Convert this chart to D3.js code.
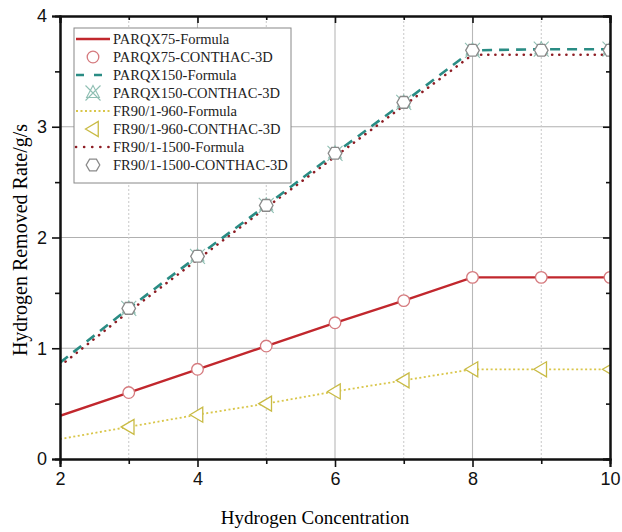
<!DOCTYPE html>
<html>
<head>
<meta charset="utf-8">
<script src="https://cdn.jsdelivr.net/npm/d3@7/dist/d3.min.js"></script>
<style>
body { margin: 0; background: #fff; }
.tick text { font-family: "Liberation Sans", Arial, sans-serif; font-size: 18px; }
</style>
</head>
<body>
<script>
var width = 622,
    height = 532;

var margin = {left: 60, right: 12, top: 16, bottom: 73};

// formula lines: concentration 2..10
var xLine = [2, 3, 4, 5, 6, 7, 8, 9, 10];
// CONTHAC-3D points: concentration 3..10
var xPts = [3, 4, 5, 6, 7, 8, 9, 10];

var parqx75Formula = [0.39, 0.60, 0.81, 1.02, 1.23, 1.43, 1.64, 1.64, 1.64];
var parqx75Sim = [0.60, 0.81, 1.02, 1.23, 1.43, 1.64, 1.64, 1.64];
var parqx150Formula = [0.87, 1.36, 1.83, 2.29, 2.76, 3.22, 3.69, 3.70, 3.70];
var parqx150Sim = [1.36, 1.83, 2.29, 2.76, 3.22, 3.69, 3.70, 3.70];
var fr960Formula = [0.18, 0.29, 0.40, 0.50, 0.61, 0.71, 0.81, 0.81, 0.81];
var fr960Sim = [0.29, 0.40, 0.50, 0.61, 0.71, 0.81, 0.81, 0.81];
var fr1500Formula = [0.84, 1.33, 1.80, 2.27, 2.73, 3.19, 3.65, 3.65, 3.65];
var fr1500Sim = [1.36, 1.83, 2.29, 2.76, 3.22, 3.69, 3.69, 3.69];

var legendLabels = ["PARQX75-Formula", "PARQX75-CONTHAC-3D", "PARQX150-Formula", "PARQX150-CONTHAC-3D",
    "FR90/1-960-Formula", "FR90/1-960-CONTHAC-3D", "FR90/1-1500-Formula", "FR90/1-1500-CONTHAC-3D"];
var xTicks = [2, 4, 6, 8, 10];
var yTicks = [0, 1, 2, 3, 4];

var svg = d3.select("body").append("svg")
    .attr("width", width)
    .attr("height", height);

var x = d3.scaleLinear().domain([2, 10]).range([margin.left, width - margin.right]);
var y = d3.scaleLinear().domain([0, 4]).range([height - margin.bottom, margin.top]);

// grid
var grid = svg.append("g");
grid.selectAll("line.hg")
    .data([1, 2, 3])
    .enter().append("line")
    .attr("x1", x(2)).attr("x2", x(10))
    .attr("y1", function(d) { return y(d); }).attr("y2", function(d) { return y(d); })
    .attr("stroke", "#b0b0b0").attr("stroke-width", 1.2);
grid.selectAll("line.vg")
    .data([4, 6, 8])
    .enter().append("line")
    .attr("y1", y(0)).attr("y2", y(4))
    .attr("x1", function(d) { return x(d); }).attr("x2", function(d) { return x(d); })
    .attr("stroke", "#b8b8b8").attr("stroke-width", 1.1);
grid.selectAll("line.vm")
    .data([3, 5, 7, 9])
    .enter().append("line")
    .attr("y1", y(0)).attr("y2", y(4))
    .attr("x1", function(d) { return x(d); }).attr("x2", function(d) { return x(d); })
    .attr("stroke", "#c8c8c8").attr("stroke-width", 1).attr("stroke-dasharray", "2,2");

svg.append("clipPath").attr("id", "clip")
    .append("rect")
    .attr("x", x(2)).attr("y", y(4))
    .attr("width", x(10) - x(2)).attr("height", y(0) - y(4));

var plot = svg.append("g").attr("clip-path", "url(#clip)");

var line = d3.line()
    .x(function(d, i) { return x(xLine[i]); })
    .y(function(d) { return y(d); });

var series = [
    {vals: fr960Formula, color: "#d9c64a", w: 1.8, dash: "2,2.5", cap: "butt"},
    {vals: parqx75Formula, color: "#c1272d", w: 2.4, dash: null, cap: "butt"},
    {vals: fr1500Formula, color: "#8e1d24", w: 2.6, dash: "0.1,7", cap: "round"},
    {vals: parqx150Formula, color: "#2a8c84", w: 2.6, dash: "10,7", cap: "butt"}
];

series.forEach(function(s) {
    plot.append("path")
        .attr("d", line(s.vals))
        .attr("fill", "none")
        .attr("stroke", s.color)
        .attr("stroke-width", s.w)
        .attr("stroke-linecap", s.cap)
        .attr("stroke-dasharray", s.dash);
});

// markers
function drawCircle(g, cx, cy) {
    g.append("circle").attr("cx", cx).attr("cy", cy).attr("r", 5.8)
        .attr("fill", "#fff").attr("stroke", "#d57a7e").attr("stroke-width", 1.3);
}
function drawTri(g, cx, cy) {
    var s = 7.5;
    g.append("path")
        .attr("d", "M" + (cx - s) + "," + cy + "L" + (cx + s * 0.7) + "," + (cy - s) + "L" + (cx + s * 0.7) + "," + (cy + s) + "Z")
        .attr("fill", "#fff").attr("stroke", "#c9bb45").attr("stroke-width", 1.3);
}
function drawHex(g, cx, cy) {
    var r = 6.8, pts = [];
    for (var k = 0; k < 6; k++) {
        var a = Math.PI / 3 * k;
        pts.push([cx + r * Math.cos(a), cy + r * Math.sin(a)]);
    }
    g.append("path").attr("d", "M" + pts.join("L") + "Z")
        .attr("fill", "#fff").attr("stroke", "#8a8a8a").attr("stroke-width", 1.3);
}
function drawCross(g, cx, cy) {
    var s = 7.5;
    g.append("path")
        .attr("d", "M" + (cx - s) + "," + (cy - s) + "L" + (cx + s) + "," + (cy + s) +
            "M" + (cx + s) + "," + (cy - s) + "L" + (cx - s) + "," + (cy + s) +
            "M" + cx + "," + (cy - s) + "L" + (cx + s * 0.85) + "," + (cy + s * 0.6) + "L" + (cx - s * 0.85) + "," + (cy + s * 0.6) + "Z")
        .attr("fill", "none").attr("stroke", "#8fbfb3").attr("stroke-width", 1.1);
}

xPts.forEach(function(xv, i) {
    drawTri(plot, x(xv), y(fr960Sim[i]));
    drawCircle(plot, x(xv), y(parqx75Sim[i]));
    drawCross(plot, x(xv), y(parqx150Sim[i]));
    drawHex(plot, x(xv), y(fr1500Sim[i]));
});

// axes
var axisColor = "#111";
svg.append("g")
    .attr("transform", "translate(0," + y(0) + ")")
    .call(d3.axisBottom(x).tickValues(xTicks).tickSize(8).tickPadding(5).tickFormat(d3.format("d")));
svg.append("g")
    .attr("transform", "translate(0," + y(0) + ")")
    .call(d3.axisBottom(x).tickValues([3, 5, 7, 9]).tickSize(5).tickFormat(""));
svg.append("g")
    .attr("transform", "translate(" + x(2) + ",0)")
    .call(d3.axisLeft(y).tickValues(yTicks).tickSize(8).tickPadding(5).tickFormat(d3.format("d")));
svg.append("g")
    .attr("transform", "translate(" + x(2) + ",0)")
    .call(d3.axisLeft(y).tickValues([0.5, 1.5, 2.5, 3.5]).tickSize(5).tickFormat(""));
svg.append("g")
    .attr("transform", "translate(0," + y(4) + ")")
    .call(d3.axisBottom(x).tickValues(xTicks).tickSize(7).tickFormat(""));
svg.append("g")
    .attr("transform", "translate(0," + y(4) + ")")
    .call(d3.axisBottom(x).tickValues([3, 5, 7, 9]).tickSize(4).tickFormat(""));
svg.append("g")
    .attr("transform", "translate(" + x(10) + ",0)")
    .call(d3.axisLeft(y).tickValues(yTicks).tickSize(7).tickFormat(""));
svg.append("g")
    .attr("transform", "translate(" + x(10) + ",0)")
    .call(d3.axisLeft(y).tickValues([0.5, 1.5, 2.5, 3.5]).tickSize(4).tickFormat(""));
svg.selectAll(".domain").attr("stroke", axisColor).attr("stroke-width", 2);
svg.selectAll(".tick line").attr("stroke", axisColor).attr("stroke-width", 1.6);
svg.selectAll(".tick text").attr("fill", "#111");

// axis titles
svg.append("text")
    .attr("x", 315).attr("y", 524)
    .attr("text-anchor", "middle")
    .style("font-family", "'Liberation Serif', 'Times New Roman', serif")
    .style("font-size", "19px")
    .text("Hydrogen Concentration");
svg.append("text")
    .attr("transform", "translate(27," + 240 + ") rotate(-90)")
    .attr("text-anchor", "middle")
    .style("font-family", "'Liberation Serif', 'Times New Roman', serif")
    .style("font-size", "20px")
    .text("Hydrogen Removed Rate/g/s");

// legend
var legend = svg.append("g");
legend.append("rect")
    .attr("x", 74).attr("y", 28).attr("width", 217).attr("height", 155)
    .attr("fill", "#fff").attr("stroke", "#888").attr("stroke-width", 1);

var rowY = d3.scalePoint().domain(d3.range(8)).range([39, 165]);
legendLabels.forEach(function(lbl, i) {
    var cy = rowY(i);
    var cx = 93;
    if (i === 0) legend.append("line").attr("x1", 76).attr("x2", 110).attr("y1", cy).attr("y2", cy)
        .attr("stroke", "#c1272d").attr("stroke-width", 2.4);
    if (i === 1) drawCircle(legend, cx, cy);
    if (i === 2) legend.append("line").attr("x1", 76).attr("x2", 110).attr("y1", cy).attr("y2", cy)
        .attr("stroke", "#2a8c84").attr("stroke-width", 2.6).attr("stroke-dasharray", "8,10");
    if (i === 3) drawCross(legend, cx, cy);
    if (i === 4) legend.append("line").attr("x1", 76).attr("x2", 110).attr("y1", cy).attr("y2", cy)
        .attr("stroke", "#d9c64a").attr("stroke-width", 1.8).attr("stroke-dasharray", "2,2.5");
    if (i === 5) drawTri(legend, cx, cy);
    if (i === 6) legend.append("line").attr("x1", 76).attr("x2", 110).attr("y1", cy).attr("y2", cy)
        .attr("stroke", "#8e1d24").attr("stroke-width", 2.6).attr("stroke-linecap", "round").attr("stroke-dasharray", "0.1,8");
    if (i === 7) drawHex(legend, cx, cy);
    legend.append("text")
        .attr("x", 113).attr("y", cy).attr("dy", "0.35em")
        .style("font-family", "'Liberation Serif', 'Times New Roman', serif")
        .style("font-size", "14.5px")
        .attr("fill", "#222")
        .text(lbl);
});
</script>
</body>
</html>
